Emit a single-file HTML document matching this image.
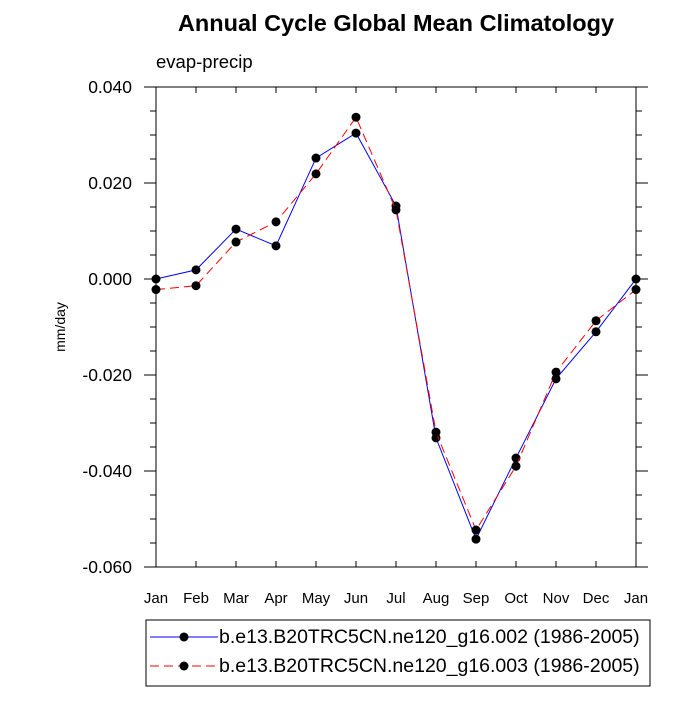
<!DOCTYPE html>
<html><head><meta charset="utf-8"><style>
body{margin:0;background:#fff;font-family:"Liberation Sans",Arial,sans-serif}
</style></head><body>
<svg id="chart" width="700" height="700" xmlns="http://www.w3.org/2000/svg" font-family="Liberation Sans, Arial, sans-serif">
<text x="396" y="31" text-anchor="middle" font-size="23.5" font-weight="bold">Annual Cycle Global Mean Climatology</text>
<text x="156" y="68" font-size="18.5">evap-precip</text>
<text transform="translate(65,327) rotate(-90)" text-anchor="middle" font-size="14">mm/day</text>
<g id="axes"></g>
<g id="series"></g>
<g>
<rect x="146" y="620" width="504" height="66" fill="#fff" stroke="#000" stroke-width="1"/>
<line x1="150" y1="637" x2="218" y2="637" stroke="#0000ff" stroke-width="1"/>
<circle cx="184" cy="637" r="4.5" fill="#000"/>
<text x="219" y="643" font-size="19.5">b.e13.B20TRC5CN.ne120_g16.002 (1986-2005)</text>
<line x1="150" y1="666" x2="218" y2="666" stroke="#ff0000" stroke-width="1" stroke-dasharray="9,5"/>
<circle cx="184" cy="666" r="4.5" fill="#000"/>
<text x="219" y="672" font-size="19.5">b.e13.B20TRC5CN.ne120_g16.003 (1986-2005)</text>
</g>
</svg>
<script>
const months=["Jan","Feb","Mar","Apr","May","Jun","Jul","Aug","Sep","Oct","Nov","Dec","Jan"];
const series002=[0.0000,0.0019,0.0104,0.0069,0.0252,0.0304,0.0152,-0.0331,-0.0542,-0.0373,-0.0208,-0.0110,0.0000];
const series003=[-0.0022,-0.0014,0.0077,0.0119,0.0219,0.0337,0.0144,-0.0319,-0.0523,-0.0390,-0.0194,-0.0087,-0.0022];
const yTicks=[0.04,0.02,0,-0.02,-0.04,-0.06];
const yTickLabels=["0.040","0.020","0.000","-0.020","-0.040","-0.060"];
const L=156,R=636,T=87,B=567,yMax=0.04,yMin=-0.06;
const xs=i=>L+(R-L)*i/(months.length-1);
const ys=v=>T+(yMax-v)/(yMax-yMin)*(B-T);
const NS="http://www.w3.org/2000/svg";
function mk(tag,attrs,parent){const e=document.createElementNS(NS,tag);for(const k in attrs)e.setAttribute(k,attrs[k]);parent.appendChild(e);return e;}
const ax=document.getElementById('axes');
const frame=mk('rect',{x:L,y:T,width:R-L,height:B-T,fill:'none',stroke:'#000','stroke-width':1},ax);


months.forEach((m,i)=>{const x=xs(i);
mk('line',{x1:x,y1:B,x2:x,y2:B-6,stroke:'#000'},ax);mk('line',{x1:x,y1:T,x2:x,y2:T+6,stroke:'#000'},ax);
const t=mk('text',{x:x,y:B+36,'text-anchor':'middle','font-size':15},ax);t.textContent=m;

});
for(let v=yMin;v<=yMax+1e-9;v+=0.005){const y=ys(v);const major=Math.abs(Math.round(v*1000)%20)<1e-6;const len=major?12:6;
mk('line',{x1:L,y1:y,x2:L-len,y2:y,stroke:'#000'},ax);mk('line',{x1:R,y1:y,x2:R+len,y2:y,stroke:'#000'},ax);}
yTicks.forEach((v,i)=>{const t=mk('text',{x:L-24,y:ys(v)+6,'text-anchor':'end','font-size':17.5},ax);t.textContent=yTickLabels[i];

});
const sg=document.getElementById('series');
function draw(data,color,dash,name){
const p=mk('polyline',{points:data.map((v,i)=>xs(i)+','+ys(v)).join(' '),fill:'none',stroke:color,'stroke-width':1,'stroke-dasharray':dash},sg);


data.forEach((v,i)=>{const c=mk('circle',{cx:xs(i),cy:ys(v),r:4.5,fill:'#000'},sg);

});}
draw(series002,'#0000ff','none','series-002');
draw(series003,'#ff0000','9,5','series-003');
</script>
</body></html>
